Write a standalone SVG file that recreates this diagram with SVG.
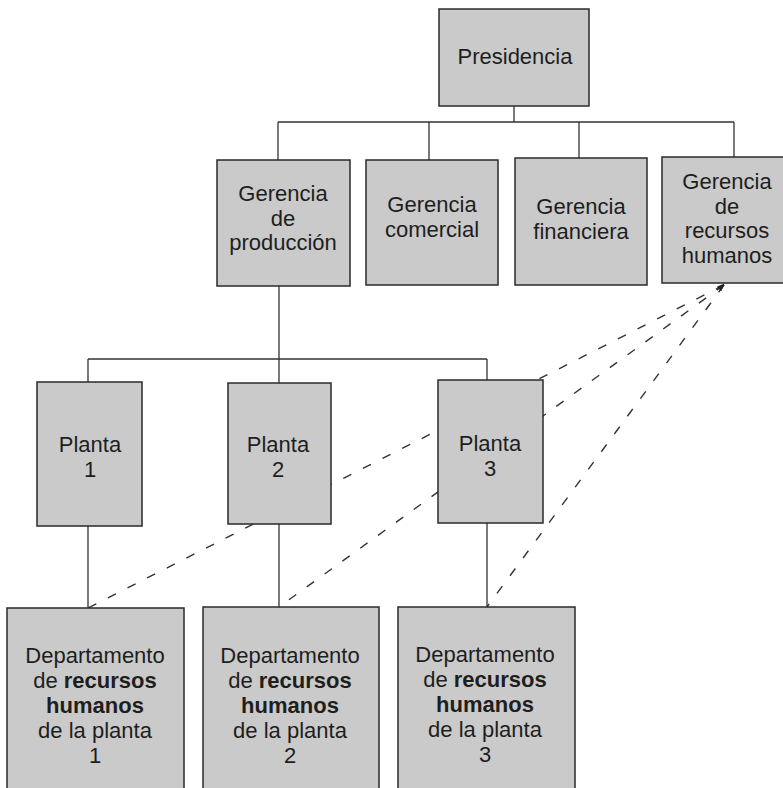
<svg xmlns="http://www.w3.org/2000/svg" width="783" height="788" viewBox="0 0 783 788">
<style>
.box{fill:#cacaca;stroke:#2a2a2a;stroke-width:1.5}
.ln{fill:none;stroke:#333;stroke-width:1.3}
.dash{fill:none;stroke:#333;stroke-width:1.4;stroke-dasharray:9 13}
text{font-family:"Liberation Sans",Arial,Helvetica,sans-serif;font-size:22px;fill:#1e1e1e;text-anchor:middle}
.b{font-weight:bold}
</style>
<rect width="783" height="788" fill="#ffffff"/>
<g id="connectors">
<path class="ln" d="M514 106V122M278 122H734M278 122V160M429 122V160M579 122V158M734 122V157"/>
<path class="ln" d="M279 286V359M88 359H487M88 359V382M279 359V383M487 359V381"/>
<path class="ln" d="M88 526V608M279 524V607M487 523V607"/>
<path class="dash" d="M724 285L88 608"/>
<path class="dash" d="M724 285L279 607"/>
<path class="dash" d="M724 285L487 607"/>
<polygon points="724.5,283.5 721.3,291.3 716.7,286.7" fill="#1e1e1e"/>
</g>
<g id="presidencia">
<rect class="box" x="439" y="9" width="150" height="97"/>
<text x="515" y="64">Presidencia</text>
</g>
<g id="ger-produccion">
<rect class="box" x="217" y="160" width="133" height="126"/>
<text x="283" y="201">Gerencia</text>
<text x="283" y="226">de</text>
<text x="283" y="250">producción</text>
</g>
<g id="ger-comercial">
<rect class="box" x="366" y="160" width="132" height="125"/>
<text x="432" y="212">Gerencia</text>
<text x="432" y="237">comercial</text>
</g>
<g id="ger-financiera">
<rect class="box" x="515" y="158" width="132" height="127"/>
<text x="581" y="214">Gerencia</text>
<text x="581" y="239">financiera</text>
</g>
<g id="ger-rrhh">
<rect class="box" x="662" y="157" width="132" height="126"/>
<text x="727" y="189">Gerencia</text>
<text x="727" y="214">de</text>
<text x="727" y="238">recursos</text>
<text x="727" y="263">humanos</text>
</g>
<g id="planta1">
<rect class="box" x="37" y="382" width="105" height="144"/>
<text x="90" y="452">Planta</text>
<text x="90" y="477">1</text>
</g>
<g id="planta2">
<rect class="box" x="228" y="383" width="103" height="141"/>
<text x="278" y="452">Planta</text>
<text x="278" y="477">2</text>
</g>
<g id="planta3">
<rect class="box" x="438" y="380" width="105" height="143"/>
<text x="490" y="451">Planta</text>
<text x="490" y="476">3</text>
</g>
<g id="depto1">
<rect class="box" x="7" y="608" width="177" height="200"/>
<text x="95" y="663">Departamento</text>
<text x="95" y="688">de <tspan class="b">recursos</tspan></text>
<text x="95" y="713" class="b">humanos</text>
<text x="95" y="738">de la planta</text>
<text x="95" y="763">1</text>
</g>
<g id="depto2">
<rect class="box" x="203" y="607" width="176" height="200"/>
<text x="290" y="663">Departamento</text>
<text x="290" y="688">de <tspan class="b">recursos</tspan></text>
<text x="290" y="713" class="b">humanos</text>
<text x="290" y="738">de la planta</text>
<text x="290" y="763">2</text>
</g>
<g id="depto3">
<rect class="box" x="398" y="607" width="177" height="200"/>
<text x="485" y="662">Departamento</text>
<text x="485" y="687">de <tspan class="b">recursos</tspan></text>
<text x="485" y="712" class="b">humanos</text>
<text x="485" y="737">de la planta</text>
<text x="485" y="762">3</text>
</g>
</svg>
